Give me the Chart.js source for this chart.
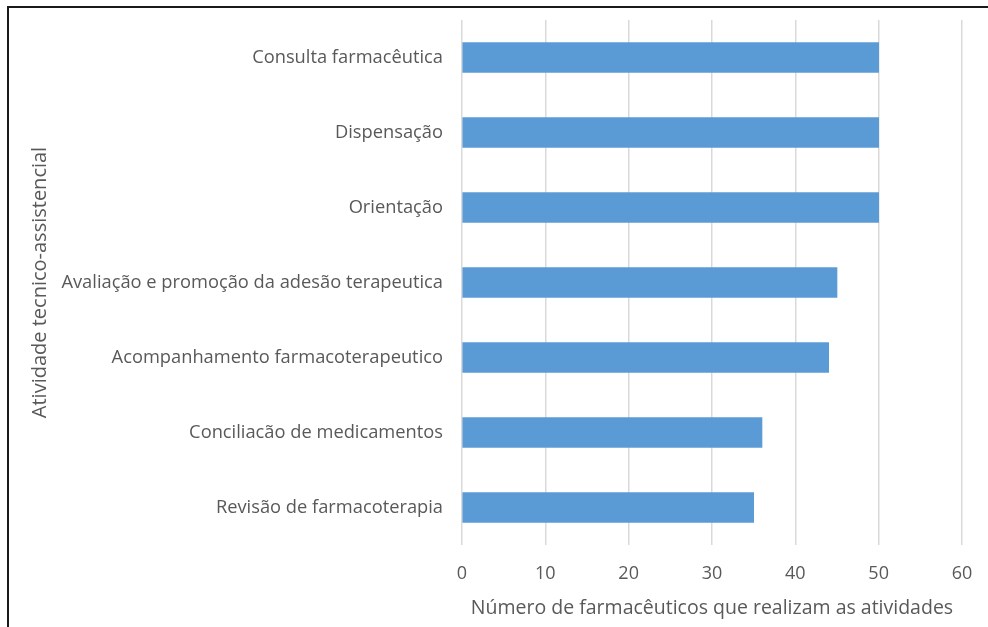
<!DOCTYPE html>
<html>
<head>
<meta charset="utf-8">
<script src="https://cdn.jsdelivr.net/npm/chart.js@4"></script>
<style>
html,body{margin:0;padding:0;background:#fff;}
#wrap{position:relative;width:988px;height:627px;}
#frame{position:absolute;left:7px;top:6px;width:981px;height:621px;border-top:2px solid #1a1a1a;border-left:2px solid #1a1a1a;box-sizing:border-box;pointer-events:none;}
canvas{position:absolute;left:0;top:0;}
</style>
</head>
<body>
<div id="wrap">
<canvas id="c" width="988" height="627"></canvas>
<div id="frame"></div>
</div>
<script>
const categories = [
  "Consulta farmacêutica",
  "Dispensação",
  "Orientação",
  "Avaliação e promoção da adesão terapeutica",
  "Acompanhamento farmacoterapeutico",
  "Conciliacão de medicamentos",
  "Revisão de farmacoterapia"
];
const values = [50, 50, 50, 45, 44, 36, 35];
const xTicks = [0, 10, 20, 30, 40, 50, 60];
const xTitle = "Número de farmacêuticos que realizam as atividades";
const yTitle = "Atividade tecnico-assistencial";

const FONT = "'Open Sans', sans-serif";
const TXT = "#595959";

new Chart(document.getElementById('c'), {
  type: 'bar',
  data: {
    labels: categories,
    datasets: [{
      data: values,
      backgroundColor: '#5b9bd5',
      borderWidth: 0,
      barThickness: 30
    }]
  },
  options: {
    indexAxis: 'y',
    responsive: false,
    animation: false,
    devicePixelRatio: 1,
    layout: { padding: { left: 0, right: 26, top: 20, bottom: 0 } },
    plugins: { legend: { display: false }, tooltip: { enabled: false } },
    scales: {
      x: {
        min: 0, max: 60,
        afterBuildTicks: (s) => { s.ticks = xTicks.map(v => ({ value: v })); },
        afterFit: (s) => { s.height = 82; s.paddingLeft = 0; s.paddingRight = 0; },
        grid: { color: '#d9d9d9', lineWidth: 1.5, drawTicks: false },
        border: { display: false },
        ticks: { color: TXT, font: { family: FONT, size: 18 }, padding: 18 },
        title: {
          display: true, text: xTitle, color: TXT,
          font: { family: FONT, size: 19.5 },
          padding: { top: 0, bottom: 7 }
        }
      },
      y: {
        afterFit: (s) => { s.width = 462; s.paddingTop = 0; s.paddingBottom = 0; },
        grid: { display: false, drawTicks: false },
        border: { display: false },
        ticks: { color: TXT, font: { family: FONT, size: 18.3 }, padding: 19 },
        title: {
          display: true, text: yTitle, color: TXT,
          font: { family: FONT, size: 20 },
          padding: { top: 28, bottom: 0 }
        }
      }
    }
  }
});
</script>
</body>
</html>
